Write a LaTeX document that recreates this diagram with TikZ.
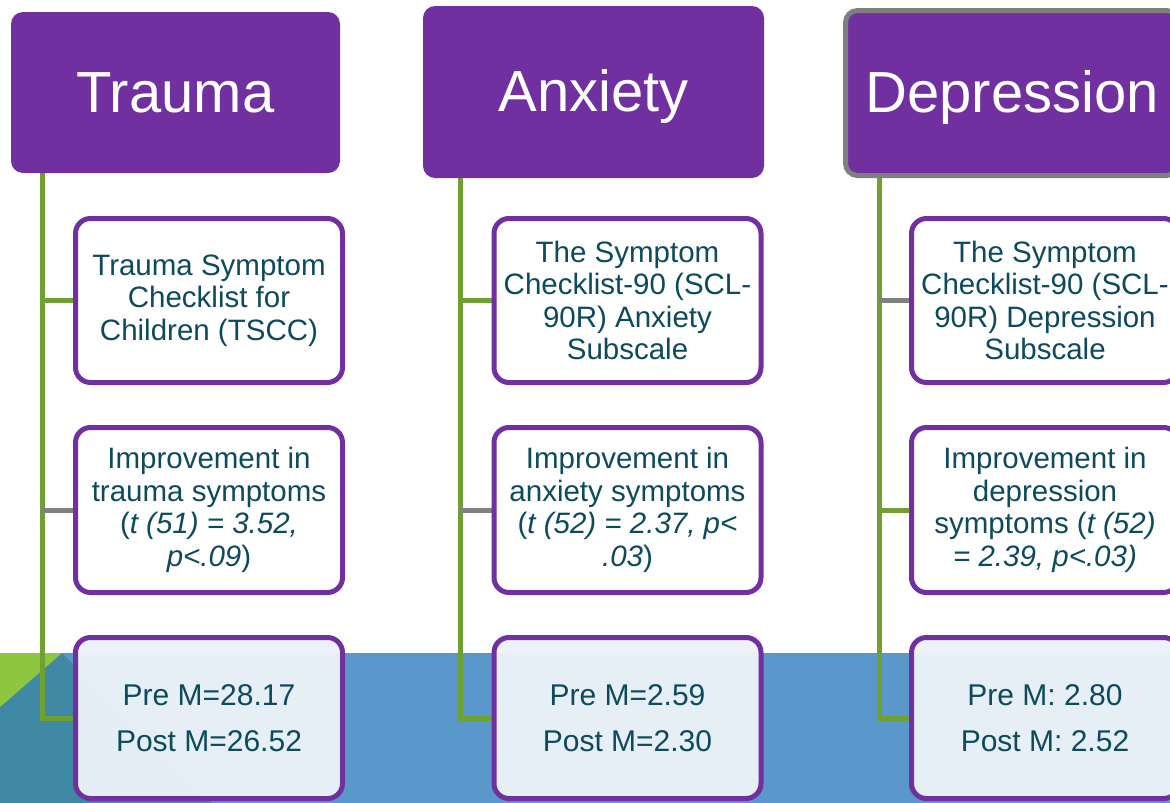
\documentclass[tikz,border=0pt]{standalone}
\usepackage{fontspec}
\setmainfont{Liberation Sans}
\definecolor{hdrpurple}{HTML}{7030A0}
\definecolor{linkgreen}{HTML}{6FA032}
\definecolor{linkgray}{HTML}{808080}
\definecolor{inktext}{HTML}{0C4A5C}
\definecolor{bandblue}{HTML}{5A98CC}
\definecolor{bandteal}{HTML}{3F89A5}
\definecolor{bandgreen}{HTML}{8DC63F}
\definecolor{paleblue}{HTML}{EBF2F8}
\definecolor{selgray}{HTML}{7F7F7F}
\pgfdeclarelayer{band}
\pgfdeclarelayer{links}
\pgfsetlayers{band,links,main}
\begin{document}
\begin{tikzpicture}[x=1pt,y=-1pt,
  header/.style={rectangle, rounded corners=12pt, fill=hdrpurple, text=white,
    font=\fontsize{58}{64}\selectfont, inner sep=0pt,
    text height=42pt, text depth=3pt},
  itembox/.style={rectangle, rounded corners=15pt, draw=hdrpurple, line width=5pt,
    fill=white, text=inktext, align=center, inner sep=0pt,
    minimum width=267pt, font=\fontsize{29.5}{32.5}\selectfont},
  meanbox/.style={itembox, fill=paleblue, fill opacity=0.97, text opacity=1,
    font=\fontsize{30}{46}\selectfont},
  glink/.style={draw=linkgreen, line width=5pt},
  slink/.style={draw=linkgray, line width=5pt},
]
\useasboundingbox (0,0) rectangle (1170,803);
\clip (0,0) rectangle (1170,803);

% background band along the bottom
\begin{pgfonlayer}{band}
\fill[bandblue] (0,653) rectangle (1170,803);
\fill[bandteal] (62,653) -- (212,803) -- (0,803) -- (0,707) -- cycle;
\fill[bandgreen] (0,653) -- (62,653) -- (0,707) -- cycle;
\end{pgfonlayer}

% category headers
\node[header, minimum width=329pt, minimum height=161pt] (th) at (175.5,92.5) {Trauma};
\node[header, minimum width=341pt, minimum height=172pt] (ah) at (593.5,92) {Anxiety};
\node[header, draw=selgray, line width=5pt, minimum width=333pt, minimum height=165pt] (dh) at (1012,93) {Depression};

% trunk start points below the headers
\coordinate (tv) at (42,173);
\coordinate (av) at (460,178);
\coordinate (dv) at (879,178);

% measure boxes
\node[itembox, minimum height=164pt] (t1) at (209,300.5)
  {Trauma Symptom\\Checklist for\\Children (TSCC)};
\node[itembox, minimum height=165pt] (t2) at (209,510)
  {Improvement in\\trauma symptoms\\(\textit{t (51) = 3.52,}\\\textit{p<.09})};
\node[meanbox, minimum height=161pt] (t3) at (209,718)
  {Pre M=28.17\\Post M=26.52};

\node[itembox, minimum height=164pt] (a1) at (627.5,300.5)
  {The Symptom\\Checklist-90 (SCL-\\90R) Anxiety\\Subscale};
\node[itembox, minimum height=165pt] (a2) at (627.5,510)
  {Improvement in\\anxiety symptoms\\(\textit{t (52) = 2.37, p<}\\\textit{.03})};
\node[meanbox, minimum height=161pt] (a3) at (627.5,718)
  {Pre M=2.59\\Post M=2.30};

\node[itembox, minimum height=164pt] (d1) at (1045,300.5)
  {The Symptom\\Checklist-90 (SCL-\\90R) Depression\\Subscale};
\node[itembox, minimum height=165pt] (d2) at (1045,510)
  {Improvement in\\depression\\symptoms (\textit{t (52)}\\\textit{= 2.39, p<.03)}};
\node[meanbox, minimum height=161pt] (d3) at (1045,718)
  {Pre M: 2.80\\Post M: 2.52};

% connectors: a trunk down from each header with a branch to every box
\begin{pgfonlayer}{links}
\draw[glink] (tv) |- (t3.west);
\draw[glink] (tv |- t1.west) -- (t1.west);
\draw[slink] (tv |- t2.west) -- (t2.west);

\draw[glink] (av) |- (a3.west);
\draw[glink] (av |- a1.west) -- (a1.west);
\draw[slink] (av |- a2.west) -- (a2.west);

\draw[glink] (dv) |- (d3.west);
\draw[slink] (dv |- d1.west) -- (d1.west);
\draw[glink] (dv |- d2.west) -- (d2.west);
\end{pgfonlayer}
\end{tikzpicture}
\end{document}
